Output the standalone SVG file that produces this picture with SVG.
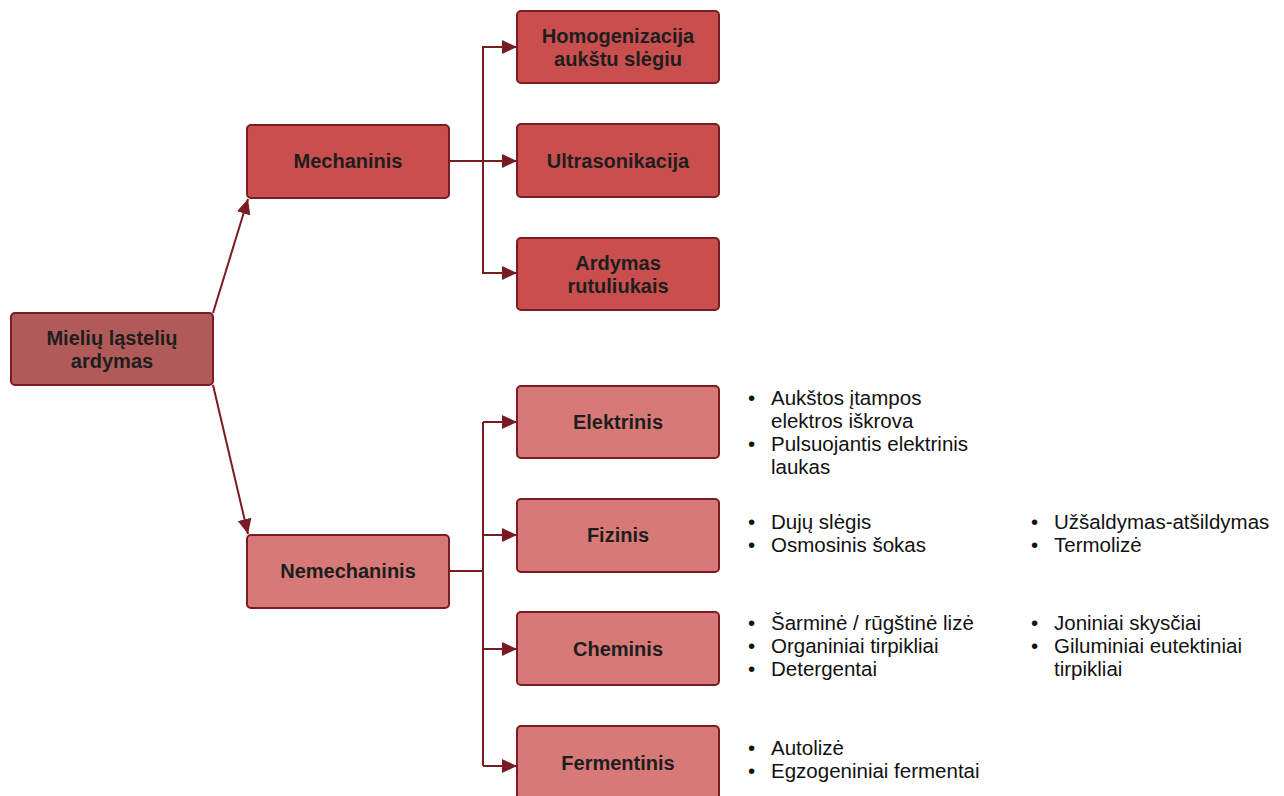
<svg xmlns="http://www.w3.org/2000/svg" width="1284" height="796" viewBox="0 0 1284 796">
<defs>
<style>
.box{stroke:#7a1c22;stroke-width:2}
.root{fill:#b05a5a}
.mech{fill:#c94e4e}
.non{fill:#d67977}
.lbl{font-family:"Liberation Sans",Arial,sans-serif;font-size:20px;font-weight:bold;fill:#1e1e1e;text-anchor:middle}
.li{font-family:"Liberation Sans",Arial,sans-serif;font-size:20.5px;fill:#111}
.con{fill:none;stroke:#7a1a22;stroke-width:2}
</style>
<marker id="ah" markerUnits="userSpaceOnUse" markerWidth="16" markerHeight="14" refX="15" refY="7" orient="auto">
<path d="M0,0 L15,7 L0,14 z" fill="#7a1a22"/>
</marker>
</defs>
<rect width="1284" height="796" fill="#fff"/>
<g id="connectors">
<line class="con" x1="213" y1="313" x2="248" y2="199" marker-end="url(#ah)"/>
<line class="con" x1="213" y1="385" x2="248" y2="534" marker-end="url(#ah)"/>
<line class="con" x1="449" y1="161" x2="517" y2="161" marker-end="url(#ah)"/>
<polyline class="con" points="517,47 483,47 483,273 517,273"/>
<line class="con" x1="483" y1="47" x2="517" y2="47" marker-end="url(#ah)"/>
<line class="con" x1="483" y1="273" x2="517" y2="273" marker-end="url(#ah)"/>
<line class="con" x1="449" y1="571" x2="483" y2="571"/>
<line class="con" x1="483" y1="422" x2="483" y2="766"/>
<line class="con" x1="483" y1="422" x2="517" y2="422" marker-end="url(#ah)"/>
<line class="con" x1="483" y1="535" x2="517" y2="535" marker-end="url(#ah)"/>
<line class="con" x1="483" y1="649" x2="517" y2="649" marker-end="url(#ah)"/>
<line class="con" x1="483" y1="766" x2="517" y2="766" marker-end="url(#ah)"/>
</g>
<g id="root">
<rect class="box root" x="11" y="313" width="202" height="72" rx="4"/>
<text class="lbl" x="112" y="345">Mielių ląstelių</text>
<text class="lbl" x="112" y="368">ardymas</text>
</g>
<g id="mechaninis">
<rect class="box mech" x="247" y="125" width="202" height="73" rx="4"/>
<text class="lbl" x="348" y="168">Mechaninis</text>
</g>
<g id="nemechaninis">
<rect class="box non" x="247" y="535" width="202" height="73" rx="4"/>
<text class="lbl" x="348" y="578">Nemechaninis</text>
</g>
<g id="homogenizacija">
<rect class="box mech" x="517" y="11" width="202" height="72" rx="4"/>
<text class="lbl" x="618" y="43">Homogenizacija</text>
<text class="lbl" x="618" y="66">aukštu slėgiu</text>
</g>
<g id="ultrasonikacija">
<rect class="box mech" x="517" y="124" width="202" height="73" rx="4"/>
<text class="lbl" x="618" y="168">Ultrasonikacija</text>
</g>
<g id="ardymas">
<rect class="box mech" x="517" y="238" width="202" height="72" rx="4"/>
<text class="lbl" x="618" y="270">Ardymas</text>
<text class="lbl" x="618" y="293">rutuliukais</text>
</g>
<g id="elektrinis">
<rect class="box non" x="517" y="386" width="202" height="72" rx="4"/>
<text class="lbl" x="618" y="429">Elektrinis</text>
</g>
<g id="fizinis">
<rect class="box non" x="517" y="499" width="202" height="73" rx="4"/>
<text class="lbl" x="618" y="542">Fizinis</text>
</g>
<g id="cheminis">
<rect class="box non" x="517" y="612" width="202" height="73" rx="4"/>
<text class="lbl" x="618" y="656">Cheminis</text>
</g>
<g id="fermentinis">
<rect class="box non" x="517" y="726" width="202" height="73" rx="4"/>
<text class="lbl" x="618" y="770">Fermentinis</text>
</g>
<g id="elektrinis-list" class="li">
<text x="748" y="405">•</text><text x="771" y="405">Aukštos įtampos</text>
<text x="771" y="428">elektros iškrova</text>
<text x="748" y="451">•</text><text x="771" y="451">Pulsuojantis elektrinis</text>
<text x="771" y="474">laukas</text>
</g>
<g id="fizinis-list" class="li">
<text x="748" y="529">•</text><text x="771" y="529">Dujų slėgis</text>
<text x="748" y="552">•</text><text x="771" y="552">Osmosinis šokas</text>
<text x="1031" y="529">•</text><text x="1054" y="529">Užšaldymas-atšildymas</text>
<text x="1031" y="552">•</text><text x="1054" y="552">Termolizė</text>
</g>
<g id="cheminis-list" class="li">
<text x="748" y="630">•</text><text x="771" y="630">Šarminė / rūgštinė lizė</text>
<text x="748" y="653">•</text><text x="771" y="653">Organiniai tirpikliai</text>
<text x="748" y="676">•</text><text x="771" y="676">Detergentai</text>
<text x="1031" y="630">•</text><text x="1054" y="630">Joniniai skysčiai</text>
<text x="1031" y="653">•</text><text x="1054" y="653">Giluminiai eutektiniai</text>
<text x="1054" y="676">tirpikliai</text>
</g>
<g id="fermentinis-list" class="li">
<text x="748" y="755">•</text><text x="771" y="755">Autolizė</text>
<text x="748" y="778">•</text><text x="771" y="778">Egzogeniniai fermentai</text>
</g>
</svg>
